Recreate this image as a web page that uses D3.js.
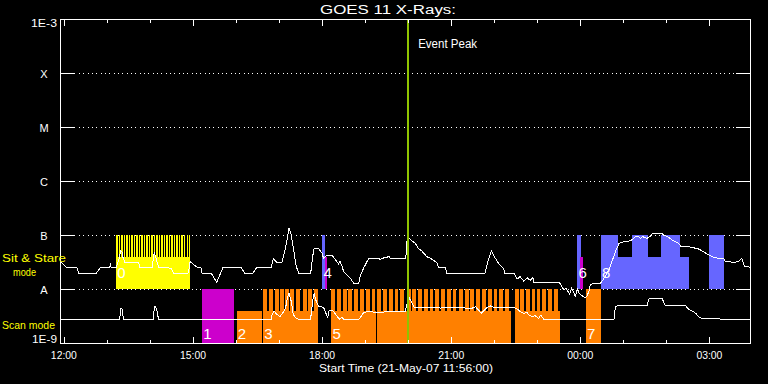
<!DOCTYPE html>
<html>
<head>
<meta charset="utf-8">
<script src="https://cdn.jsdelivr.net/npm/d3@7"></script>
<style>
  body { margin: 0; background: #000; }
  svg { display: block; }
  text { font-family: "Liberation Sans", Arial, sans-serif; fill: #fff; }
</style>
</head>
<body>
<svg id="chart" width="768" height="384"></svg>
<script>
// ---- data (UT, 21/22 May 2007) ----
const startTime = "11:56", endTime = "03:58";
const eventPeak = "20:00";

// flare class levels on the log axis
const classNames = ["A", "B", "C", "M", "X"];
const classFlux = [1e-8, 1e-7, 1e-6, 1e-5, 1e-4];

// GOES 11 1-8 A channel [time, W/m2]
const goesLong = [
  ["11:56",3.2e-8],["12:03",2.52e-8],["12:18",2.52e-8],["12:21",1.95e-8],["12:45",1.95e-8],
  ["12:48",2.2e-8],["12:51",2.52e-8],["13:04",2.52e-8],["13:05",2.78e-8],["13:06",2.52e-8],
  ["13:13",2.52e-8],["13:17",3.6e-8],["13:19",5.06e-8],["13:21",5.0e-8],["13:22",3.96e-8],
  ["13:25",3.12e-8],["13:44",3.12e-8],["13:46",2.52e-8],["14:03",2.52e-8],["14:06",4.7e-8],
  ["14:08",4.0e-8],["14:12",2.52e-8],["14:26",2.52e-8],["14:27",2.4e-8],["14:29",2.45e-8],
  ["14:34",1.9e-8],["14:52",1.9e-8],["14:54",2.1e-8],["14:56",3.2e-8],["15:00",2.9e-8],
  ["15:06",2.52e-8],["15:11",2.52e-8],["15:13",1.9e-8],["15:26",1.9e-8],["15:33",1.33e-8],
  ["15:38",1.9e-8],["15:42",2.52e-8],["16:07",2.52e-8],["16:13",1.9e-8],["16:23",1.9e-8],
  ["16:29",2.52e-8],["16:49",2.52e-8],["16:52",3.6e-8],["16:57",3.12e-8],["17:04",3.12e-8],
  ["17:09",5.67e-8],["17:14",1.36e-7],["17:17",1.0e-7],["17:20",5.67e-8],["17:24",2.59e-8],
  ["17:28",1.9e-8],["17:44",1.9e-8],["17:47",4.1e-8],["17:49",5.67e-8],["17:55",5.67e-8],
  ["18:00",4.58e-8],["18:02",3.7e-8],["18:06",4.2e-8],["18:14",4.2e-8],["18:18",3.6e-8],
  ["18:23",2.9e-8],["18:25",3.3e-8],["18:28",2.6e-8],["18:30",2.1e-8],["18:37",1.7e-8],
  ["18:40",1.55e-8],["18:44",1.28e-8],["18:51",1.28e-8],["18:53",1.7e-8],["18:58",2.45e-8],
  ["19:05",3.7e-8],["19:19",3.7e-8],["19:21",3.5e-8],["19:24",3.7e-8],["19:34",4.0e-8],
  ["19:35",3.7e-8],["19:56",3.7e-8],["19:57",4.2e-8],["19:58",7.5e-8],["20:01",8.7e-8],
  ["20:10",7.0e-8],["20:14",5.67e-8],["20:19",5.06e-8],["20:26",3.96e-8],["20:31",3.7e-8],
  ["20:35",3.45e-8],["20:41",2.99e-8],["20:42",2.52e-8],["20:52",2.52e-8],["20:54",1.95e-8],
  ["21:47",1.95e-8],["21:51",3.2e-8],["21:56",5.06e-8],["21:59",4.2e-8],["22:04",3.3e-8],
  ["22:08",2.75e-8],["22:13",2.4e-8],["22:15",1.95e-8],["22:28",1.95e-8],["22:32",1.53e-8],
  ["22:36",1.7e-8],["22:41",1.4e-8],["22:46",1.62e-8],["22:50",1.45e-8],["22:54",1.62e-8],
  ["22:55",1.33e-8],["23:30",1.33e-8],["23:33",1.2e-8],["23:37",9.6e-9],["23:40",1.05e-8],
  ["23:45",8.0e-9],["23:48",1.05e-8],["23:53",7.4e-9],["23:56",1.0e-8],["23:58",8.5e-9],
  ["00:02",7.6e-9],["00:06",6.9e-9],["00:09",7.3e-9],["00:12",9.0e-9],["00:14",1.22e-8],
  ["00:21",1.28e-8],["00:28",1.28e-8],["00:33",1.57e-8],["00:40",2.25e-8],["00:44",3.2e-8],
  ["00:49",4.9e-8],["00:54",7.0e-8],["01:01",7.5e-8],["01:10",7.8e-8],["01:17",9.3e-8],
  ["01:21",9.5e-8],["01:24",8.7e-8],["01:27",9.3e-8],["01:33",8.7e-8],["01:38",9.6e-8],
  ["01:41",1.07e-7],["01:54",1.07e-7],["01:56",1.0e-7],["02:02",9.3e-8],["02:08",8.1e-8],
  ["02:13",7.5e-8],["02:17",7.0e-8],["02:20",6.25e-8],["02:31",6.07e-8],["02:38",5.8e-8],
  ["02:45",5.5e-8],["02:50",5.06e-8],["02:57",4.45e-8],["03:04",3.96e-8],["03:13",3.7e-8],
  ["03:20",3.6e-8],["03:22",3.3e-8],["03:32",3.12e-8],["03:36",3.12e-8],["03:41",3.3e-8],
  ["03:45",3.7e-8],["03:46",3.5e-8],["03:49",2.59e-8],["03:53",2.59e-8],["03:57",2.52e-8]
];

// GOES 11 0.5-4 A channel
const goesShort = [
  ["11:56",2.75e-9],["13:18",2.75e-9],["13:19",4.4e-9],["13:21",4.4e-9],["13:23",2.75e-9],
  ["14:05",2.75e-9],["14:06",4.7e-9],["14:08",4.7e-9],["14:10",3.8e-9],["14:12",2.75e-9],
  ["16:49",2.75e-9],["16:50",3.3e-9],["16:53",3.9e-9],["16:57",3.4e-9],["17:01",3.07e-9],
  ["17:05",3.55e-9],["17:09",4.4e-9],["17:12",7.2e-9],["17:14",8.3e-9],["17:17",5.9e-9],
  ["17:20",3.3e-9],["17:24",2.87e-9],["17:27",2.75e-9],["17:44",2.75e-9],["17:47",6.25e-9],
  ["17:49",8.3e-9],["17:52",5.8e-9],["17:56",4.7e-9],["18:02",4.6e-9],["18:06",3.4e-9],
  ["18:08",2.9e-9],["18:09",3.9e-9],["18:14",4.1e-9],["18:19",3.4e-9],["18:24",2.75e-9],
  ["18:28",3.0e-9],["18:30",2.75e-9],["18:51",2.75e-9],["18:53",2.9e-9],["18:58",3.7e-9],
  ["19:05",3.8e-9],["19:17",3.7e-9],["19:35",3.8e-9],["19:56",3.8e-9],["19:58",5.0e-9],
  ["20:02",6.7e-9],["20:04",5.9e-9],["20:08",4.7e-9],["20:10",4.5e-9],["20:42",4.58e-9],
  ["20:45",4.4e-9],["20:50",4.58e-9],["21:29",4.4e-9],["21:34",4.7e-9],["21:38",4.1e-9],
  ["21:42",3.55e-9],["21:45",3.9e-9],["21:50",4.58e-9],["21:55",4.85e-9],["21:59",4.58e-9],
  ["22:25",4.58e-9],["22:30",4.4e-9],["22:34",4.1e-9],["22:36",3.8e-9],["22:41",3.55e-9],
  ["22:46",3.7e-9],["22:48",3.3e-9],["22:53",3.07e-9],["22:57",3.2e-9],["23:02",2.87e-9],
  ["23:05",3.3e-9],["23:09",2.75e-9],["00:47",2.75e-9],["00:49",4.7e-9],["00:51",4.85e-9],
  ["01:33",4.85e-9],["01:36",6.7e-9],["01:54",6.7e-9],["01:58",5.06e-9],["02:00",4.85e-9],
  ["02:27",4.85e-9],["02:31",4.2e-9],["02:36",3.92e-9],["02:41",3.55e-9],["02:45",3.07e-9],
  ["02:50",2.8e-9],["03:57",2.75e-9]
];

// observing blocks: [label, mode, kind, start, end, fraction of row]
const blocks = [
  ["0", "stare", "Y", "13:13", "14:56", 0.6],
  ["1", "scan",  "M", "15:13", "15:57", 1],
  ["2", "scan",  "O", "16:01", "16:36", 0.6],
  ["3", "scan",  "O", "16:38", "17:52", 0.6],
  ["4", "stare", "B", "18:00:30", "18:04:30", 1],
  ["",  "stare", "M", "18:03:30", "18:07", 0.6],
  ["5", "scan",  "O", "18:13", "19:15", 0.6],
  ["",  "scan",  "O", "19:17", "22:24", 0.6],
  ["",  "scan",  "O", "22:29", "23:32", 0.6],
  ["6", "stare", "B", "23:56", "00:01", 1],
  ["",  "stare", "M", "23:59", "00:04", 0.6],
  ["7", "scan",  "O", "00:08", "00:29", 1],
  ["8", "stare", "B", "00:29", "02:31", 0.6],
  ["",  "stare", "B", "00:29", "00:52", 1],
  ["",  "stare", "B", "01:12", "01:34", 1],
  ["",  "stare", "B", "01:53", "02:19", 1],
  ["",  "stare", "B", "02:59", "03:20", 1]
];

// short exposures inside the studies (start times), exposure length in minutes
const stareRasters = ["13:13:00","13:16:30","13:20:00","13:23:30","13:27:00","13:30:30",
  "13:34:00","13:37:30","13:41:00","13:44:30","13:48:00","13:51:30","13:55:00","13:58:30",
  "14:02:00","14:05:30","14:09:00","14:12:30","14:16:00","14:19:30","14:23:00","14:26:30",
  "14:30:00","14:33:30","14:37:00","14:40:30","14:44:00","14:47:30","14:51:00","14:54:30"];
const stareExposure = 2;
const scanRasters3 = ["16:38","16:46","16:54","17:01","17:08","17:15","17:24","17:33","17:41","17:49"];
const scanRasters5 = ["18:13","18:21","18:29","18:36","18:45","18:53","19:01","19:09","19:17",
  "19:25","19:33","19:41","19:49","19:58","20:06","20:14","20:22","20:30","20:38","20:46",
  "20:54","21:02","21:11","21:19","21:26","21:35","21:43","21:51","21:59","22:07","22:15",
  "22:29","22:36","22:44","22:52","22:59","23:07","23:15","23:23"];
const scanExposure = 5.3;

// ---- helpers ----
function parseT(s) {
  const [h, m, sec] = s.split(":").map(Number);
  const day = h < 11 ? 22 : 21;
  return new Date(Date.UTC(2007, 4, day, h, m, sec || 0));
}
function addMin(d, m) { return new Date(d.getTime() + m * 60000); }

const kindColor = { Y: "#ffff00", M: "#cc00cc", O: "#ff8000", B: "#6666ff" };
const rows = { scan: [1e-9, 1e-8], stare: [1e-8, 1e-7] };

const svg = d3.select("#chart");
svg.append("rect").attr("width", 768).attr("height", 384).attr("fill", "#000");

const x = d3.scaleUtc().domain([parseT(startTime), parseT(endTime)]).range([61, 751]);
const y = d3.scaleLog().domain([1e-9, 1e-3]).range([343, 19]);

const plot = svg.append("g").attr("shape-rendering", "crispEdges");

// class grid: solid stubs on both sides, dotted in between
classFlux.forEach(f => {
  const yy = Math.round(y(f)) + 0.5;
  plot.append("line").attr("x1", 61).attr("x2", 75).attr("y1", yy).attr("y2", yy).attr("stroke", "#fff");
  plot.append("line").attr("x1", 736).attr("x2", 751).attr("y1", yy).attr("y2", yy).attr("stroke", "#fff");
  plot.append("line").attr("x1", 79).attr("x2", 736).attr("y1", yy).attr("y2", yy)
    .attr("stroke", "#fff").attr("stroke-dasharray", "1 3.33");
});

// study blocks
function rowBox(mode, frac) {
  const [lo, hi] = rows[mode];
  const yb = y(lo), yt = y(hi);
  return [yb - frac * (yb - yt), yb];
}
blocks.forEach(([label, mode, kind, t0, t1, frac]) => {
  const [top, bot] = rowBox(mode, frac);
  const x0 = x(parseT(t0)), x1 = x(parseT(t1));
  plot.append("rect").attr("x", x0).attr("y", top).attr("width", x1 - x0).attr("height", bot - top)
    .attr("fill", kindColor[kind]);
});

function drawRasters(list, mode, kind, len) {
  const [top, bot] = rowBox(mode, 1);
  list.forEach(t => {
    const d = parseT(t);
    const x0 = x(d), x1 = x(addMin(d, len));
    plot.append("rect").attr("x", x0).attr("y", top).attr("width", x1 - x0).attr("height", bot - top)
      .attr("fill", kindColor[kind]);
  });
}
drawRasters(stareRasters, "stare", "Y", stareExposure);
drawRasters(scanRasters3, "scan", "O", scanExposure);
drawRasters(scanRasters5, "scan", "O", scanExposure);

// light curves
const line = d3.line().x(d => x(parseT(d[0]))).y(d => y(d[1]));
[goesLong, goesShort].forEach(series => {
  plot.append("path").datum(series).attr("d", line)
    .attr("fill", "none").attr("stroke", "#fff").attr("stroke-width", 1);
});

// block numbers
blocks.filter(b => b[0] !== "").forEach(([label, mode, kind, t0]) => {
  const base = mode === "scan" ? y(rows.scan[0]) - 4.5 : y(rows.stare[0]) - 11;
  svg.append("text").attr("x", x(parseT(t0)) + 1).attr("y", base)
    .attr("font-size", 15).text(label);
});

// event peak marker
const xp = x(parseT(eventPeak));
plot.append("line").attr("x1", xp).attr("x2", xp).attr("y1", 19).attr("y2", 343)
  .attr("stroke", "#8fc400").attr("stroke-width", 2);
svg.append("text").attr("x", xp + 10).attr("y", 47.5).attr("font-size", 12.5)
  .attr("textLength", 59).attr("lengthAdjust", "spacingAndGlyphs").text("Event Peak");

// frame
plot.append("rect").attr("x", 60.5).attr("y", 19.5).attr("width", 690).attr("height", 324)
  .attr("fill", "none").attr("stroke", "#fff");

// time ticks, top and bottom
x.ticks(d3.utcHour.every(1)).forEach(d => {
  const xx = Math.round(x(d)) + 0.5;
  const len = d.getUTCHours() % 3 === 0 ? 6 : 3;
  plot.append("line").attr("x1", xx).attr("x2", xx).attr("y1", 20).attr("y2", 20 + len).attr("stroke", "#fff");
  plot.append("line").attr("x1", xx).attr("x2", xx).attr("y1", 343).attr("y2", 343 - len).attr("stroke", "#fff");
});
x.ticks(d3.utcHour.every(3)).forEach(d => {
  svg.append("text").attr("x", x(d)).attr("y", 358.5).attr("font-size", 10)
    .attr("text-anchor", "middle").attr("textLength", 26).attr("lengthAdjust", "spacingAndGlyphs")
    .text(d3.utcFormat("%H:%M")(d));
});

// y labels
classNames.forEach((c, i) => {
  svg.append("text").attr("x", 44).attr("y", y(classFlux[i]) + 4.5).attr("font-size", 11)
    .attr("text-anchor", "middle").text(c);
});
svg.append("text").attr("x", 57).attr("y", 27).attr("font-size", 11).attr("text-anchor", "end")
  .attr("textLength", 26).attr("lengthAdjust", "spacingAndGlyphs").text("1E-3");
svg.append("text").attr("x", 57).attr("y", 343).attr("font-size", 11).attr("text-anchor", "end")
  .attr("textLength", 25).attr("lengthAdjust", "spacingAndGlyphs").text("1E-9");

// mode names
const modeText = [["Sit & Stare", 2, 262, 64], ["mode", 13, 275.5, 23], ["Scan mode", 2, 328.5, 53]];
modeText.forEach(([t, xx, yy, w]) => {
  svg.append("text").attr("x", xx).attr("y", yy).attr("font-size", 11).style("fill", "#ffff00")
    .attr("textLength", w).attr("lengthAdjust", "spacingAndGlyphs").text(t);
});

// titles
svg.append("text").attr("x", 320).attr("y", 14).attr("font-size", 12.5)
  .attr("textLength", 136).attr("lengthAdjust", "spacingAndGlyphs").text("GOES 11 X-Rays:");
svg.append("text").attr("x", 406).attr("y", 371.5).attr("font-size", 10.5).attr("text-anchor", "middle")
  .attr("textLength", 174).attr("lengthAdjust", "spacingAndGlyphs").text("Start Time (21-May-07 11:56:00)");
</script>
</body>
</html>
